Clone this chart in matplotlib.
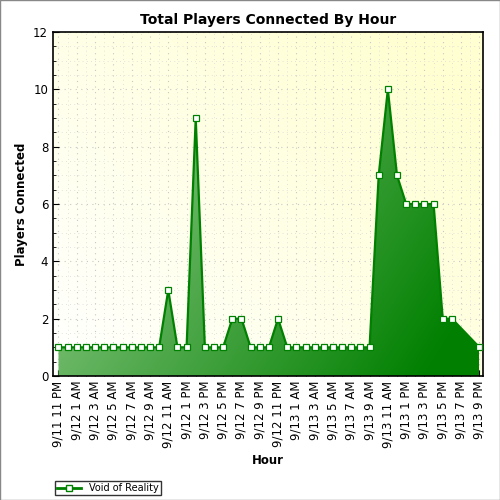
import matplotlib
matplotlib.use("Agg")
import matplotlib.pyplot as plt
import numpy as np
from matplotlib.patches import Polygon
from matplotlib.lines import Line2D
from matplotlib.ticker import MultipleLocator

hours = list(range(0, 44)) + [46]
players = [1,1,1,1,1,1,1,1,1,1,1,1,3,1,1,9,1,1,1,2,2,1,1,1,2,1,1,1,1,1,1,1,1,1,1,7,10,7,6,6,6,6,2,2,1]
tick_hours = list(range(0, 47, 2))
tick_labels = ["9/11 11 PM","9/12 1 AM","9/12 3 AM","9/12 5 AM","9/12 7 AM","9/12 9 AM","9/12 11 AM",
               "9/12 1 PM","9/12 3 PM","9/12 5 PM","9/12 7 PM","9/12 9 PM","9/12 11 PM",
               "9/13 1 AM","9/13 3 AM","9/13 5 AM","9/13 7 AM","9/13 9 AM","9/13 11 AM",
               "9/13 1 PM","9/13 3 PM","9/13 5 PM","9/13 7 PM","9/13 9 PM"]

fig = plt.figure(figsize=(5, 5), dpi=100)
ax = fig.add_axes([0.106, 0.248, 0.86, 0.688])
x0, x1, y0, y1 = -0.6, 46.4, 0, 12
ax.set_xlim(x0, x1); ax.set_ylim(y0, y1)

# background gradient
X, Y = np.meshgrid(np.linspace(0, 1, 200), np.linspace(0, 1, 100))
t = np.clip(0.6 * X + 0.5 * Y, 0, 1)
white = np.array([1, 1, 1]); yel = np.array([1, 1, 0.82])
bg = white * (1 - t[..., None]) + yel * t[..., None]
ax.imshow(bg, extent=[x0, x1, y0, y1], aspect='auto', origin='lower', zorder=0)

ax.xaxis.set_minor_locator(MultipleLocator(1))
ax.yaxis.set_minor_locator(MultipleLocator(0.5))
ax.grid(True, color='#c8c8c8', linestyle=(0, (1, 4)), linewidth=0.8, zorder=1)
ax.grid(True, which='minor', color='#d8d8d8', linestyle=(0, (1, 4)), linewidth=0.6, zorder=1)

# gradient area fill
xs = np.array(hours, float); ys = np.array(players, float)
verts = np.column_stack([np.r_[xs, xs[-1], xs[0]], np.r_[ys, 0, 0]])
poly = Polygon(verts, closed=True, facecolor='none', edgecolor='none')
ax.add_patch(poly)
GX, GY = np.meshgrid(np.linspace(0, 1, 300), np.linspace(0, 1, 300))
tt = np.clip(0.8 * GX + 0.35 * (1 - GY) - 0.05, 0, 1)
light = np.array([0.58, 0.80, 0.55]); dark = np.array([0.0, 0.50, 0.0])
grad = light * (1 - tt[..., None]) + dark * tt[..., None]
im = ax.imshow(grad, extent=[xs[0], xs[-1], 0, 10], aspect='auto', origin='lower', zorder=2)
im.set_clip_path(poly)
ax.set_xlim(x0, x1); ax.set_ylim(y0, y1)

ax.plot(xs, ys, color='#008000', linewidth=1.6, marker='s', markersize=5,
        markerfacecolor='white', markeredgecolor='#008000', markeredgewidth=0.9, zorder=3)

ax.set_xticks(tick_hours)
ax.set_xticklabels(tick_labels, rotation=90, fontsize=8)
ax.set_yticks(range(0, 13, 2))
ax.tick_params(labelsize=8.5, direction='in', length=4)
ax.tick_params(which='minor', direction='in', length=2)
for s in ax.spines.values():
    s.set_linewidth(1.2)
ax.set_title("Total Players Connected By Hour", fontsize=10, fontweight='bold')
ax.set_xlabel("Hour", fontsize=8.5, fontweight='bold')
ax.set_ylabel("Players Connected", fontsize=8.5, fontweight='bold')

h = Line2D([], [], color='#008000', linewidth=2, marker='s', markersize=5,
           markerfacecolor='white', markeredgecolor='#008000')
fig.legend([h], ["Void of Reality"], loc='lower left', bbox_to_anchor=(0.1, 0.0),
           fontsize=7, frameon=True, fancybox=False, edgecolor='black', borderpad=0.2,
           handlelength=2.5)
fig.patches.append(plt.Rectangle((0, 0), 1, 1, transform=fig.transFigure, fill=False,
                                 edgecolor='#888888', linewidth=1))
fig.savefig("out.png", dpi=100)
